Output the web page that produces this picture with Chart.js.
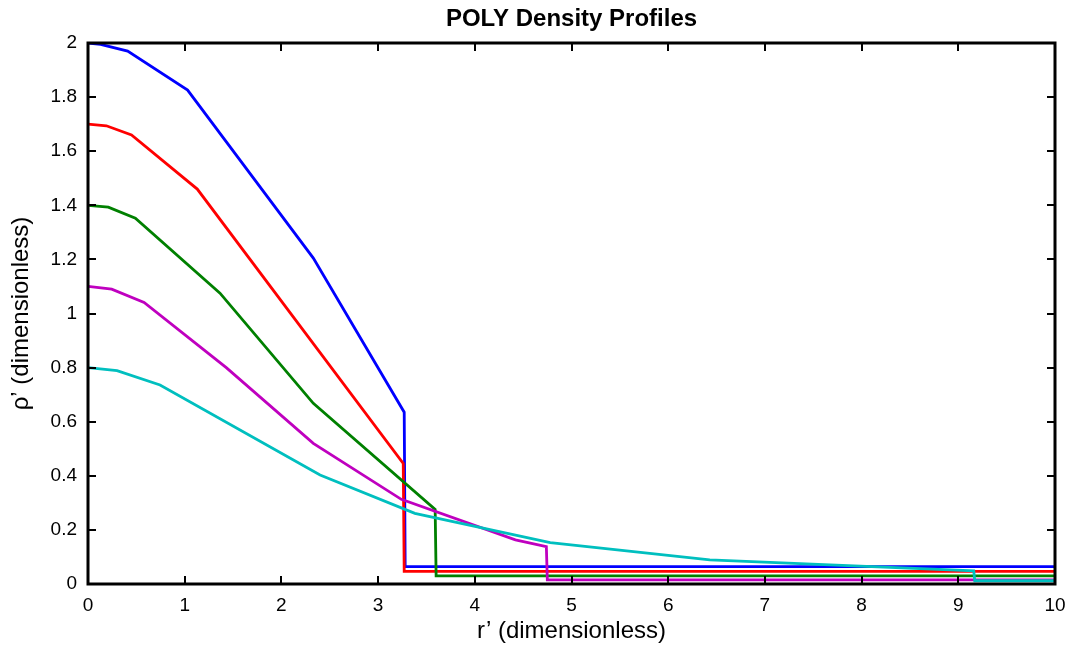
<!DOCTYPE html>
<html>
<head>
<meta charset="utf-8">
<script src="https://cdn.jsdelivr.net/npm/chart.js@4"></script>
<style>
  html, body { margin: 0; padding: 0; background: #fff; }
  #wrap { width: 1068px; height: 651px; }
</style>
</head>
<body>
<div id="wrap"><canvas id="densityChart"></canvas></div>
<script>
// profile values (r', rho')
const blueR = [0, 0.13, 0.41, 1.03, 2.33, 3.27, 3.28, 10];
const blueRho = [2.0, 1.995, 1.97, 1.826, 1.205, 0.635, 0.064, 0.064];

const redR = [0, 0.19, 0.45, 1.13, 3.26, 3.27, 10];
const redRho = [1.7, 1.694, 1.66, 1.46, 0.446, 0.047, 0.047];

const greenR = [0, 0.21, 0.49, 1.365, 2.33, 3.59, 3.60, 10];
const greenRho = [1.4, 1.393, 1.352, 1.075, 0.668, 0.276, 0.03, 0.03];

const magentaR = [0, 0.245, 0.58, 1.43, 2.33, 3.24, 4.42, 4.74, 4.75, 10];
const magentaRho = [1.1, 1.09, 1.041, 0.80, 0.52, 0.313, 0.163, 0.138, 0.015, 0.015];

const cyanR = [0, 0.30, 0.745, 2.4, 3.38, 4.78, 6.43, 9.16, 9.17, 10];
const cyanRho = [0.8, 0.789, 0.736, 0.403, 0.261, 0.153, 0.089, 0.049, 0.012, 0.012];

const xTicks = [0, 1, 2, 3, 4, 5, 6, 7, 8, 9, 10];
const yTicks = [0, 0.2, 0.4, 0.6, 0.8, 1, 1.2, 1.4, 1.6, 1.8, 2];

function pts(xs, ys) {
  return xs.map((x, i) => ({ x: x, y: ys[i] }));
}

function series(xs, ys, color, order) {
  return {
    data: pts(xs, ys),
    borderColor: color,
    backgroundColor: color,
    borderWidth: 2.8,
    pointRadius: 0,
    showLine: true,
    fill: false,
    tension: 0,
    order: order
  };
}

// box frame with inward tick marks on all four sides
const boxTicks = {
  id: "boxTicks",
  afterDatasetsDraw(chart) {
    const ctx = chart.ctx;
    const a = chart.chartArea;
    const xs = chart.scales.x;
    const ys = chart.scales.y;
    const len = 8;
    ctx.save();
    ctx.strokeStyle = "#000";
    ctx.lineWidth = 2;
    ctx.beginPath();
    xTicks.forEach(v => {
      const px = Math.round(xs.getPixelForValue(v));
      ctx.moveTo(px, a.bottom); ctx.lineTo(px, a.bottom - len);
      ctx.moveTo(px, a.top); ctx.lineTo(px, a.top + len);
    });
    yTicks.forEach(v => {
      const py = Math.round(ys.getPixelForValue(v));
      ctx.moveTo(a.left, py); ctx.lineTo(a.left + len, py);
      ctx.moveTo(a.right, py); ctx.lineTo(a.right - len, py);
    });
    ctx.stroke();
    ctx.lineWidth = 3;
    ctx.strokeRect(a.left, a.top, a.right - a.left, a.bottom - a.top);
    ctx.restore();
  }
};

Chart.defaults.font.family = "'Liberation Sans', Arial, sans-serif";
Chart.defaults.color = "#000";

new Chart(document.getElementById("densityChart"), {
  type: "scatter",
  data: {
    datasets: [
      series(blueR, blueRho, "#0000ff", 5),
      series(redR, redRho, "#ff0000", 4),
      series(greenR, greenRho, "#008000", 3),
      series(magentaR, magentaRho, "#bf00bf", 2),
      series(cyanR, cyanRho, "#00bfbf", 1)
    ]
  },
  options: {
    responsive: true,
    maintainAspectRatio: false,
    animation: false,
    layout: { padding: { top: 3, right: 13, left: 0, bottom: 0 } },
    plugins: {
      legend: { display: false },
      tooltip: { enabled: false },
      title: {
        display: true,
        fullSize: false,
        text: "POLY Density Profiles",
        font: { size: 24, weight: "bold" },
        padding: { top: 2, bottom: 9.2 }
      }
    },
    scales: {
      x: {
        type: "linear",
        min: 0,
        max: 10,
        grid: { display: false, drawTicks: false },
        border: { display: false },
        afterBuildTicks: s => { s.ticks = xTicks.map(v => ({ value: v })); },
        ticks: { font: { size: 19 }, padding: 10.5, maxRotation: 0 },
        title: { display: true, text: "r\u2019 (dimensionless)", font: { size: 24 }, padding: { top: 0, bottom: 5.6 } },
        afterFit: s => { s.height = 67; s.paddingRight = 0; s.paddingLeft = 0; }
      },
      y: {
        type: "linear",
        min: 0,
        max: 2,
        grid: { display: false, drawTicks: false },
        border: { display: false },
        afterBuildTicks: s => { s.ticks = yTicks.map(v => ({ value: v })); },
        ticks: {
          font: { size: 19 },
          padding: 11,
          callback: v => String(Number(v.toFixed(1)))
        },
        title: { display: true, text: "\u03c1\u2019 (dimensionless)", font: { size: 24 }, padding: { top: 7, bottom: 0 } },
        afterFit: s => { s.width = 88; s.paddingTop = 0; s.paddingBottom = 0; }
      }
    }
  },
  plugins: [boxTicks]
});
</script>
</body>
</html>
